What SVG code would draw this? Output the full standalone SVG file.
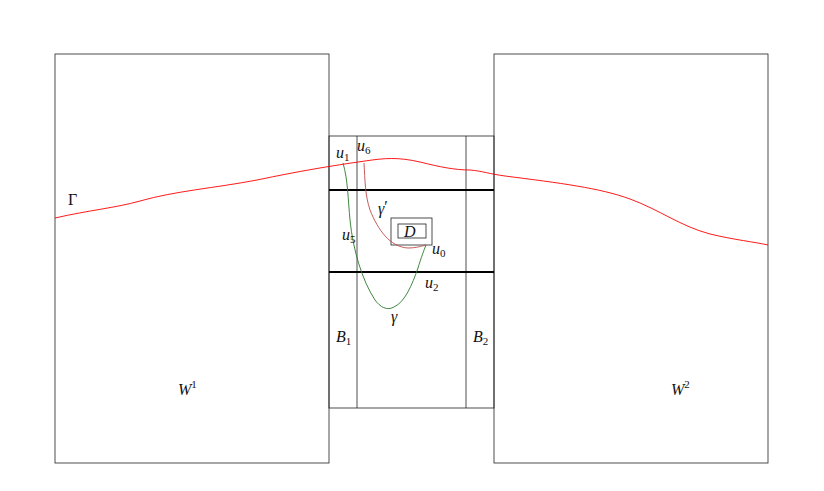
<svg xmlns="http://www.w3.org/2000/svg" width="824" height="491" viewBox="0 0 824 491">
<style>
.box{fill:none;stroke:#222;stroke-width:0.8}
.thick{stroke:#000;stroke-width:2.2}
.t{font-family:"Liberation Serif","DejaVu Serif",serif;font-size:16px;font-style:italic;fill:#111}
.s{font-size:11px;font-style:normal}
.up{font-size:11px;font-style:normal}
</style>
<rect width="824" height="491" fill="#fff"/>
<g id="W1"><rect class="box" x="55" y="54" width="274" height="409"/>
<text class="t" x="178" y="395">W<tspan class="up" dy="-7">1</tspan></text></g>
<g id="W2"><rect class="box" x="494" y="54" width="274" height="409"/>
<text class="t" x="671" y="395">W<tspan class="up" dy="-7">2</tspan></text></g>
<g id="middle"><rect class="box" x="329" y="136" width="165" height="272"/>
<line class="box" x1="357" y1="136" x2="357" y2="408"/>
<line class="box" x1="466" y1="136" x2="466" y2="408"/>
<line class="thick" x1="329" y1="190" x2="494" y2="190"/>
<line class="thick" x1="329" y1="272" x2="494" y2="272"/>
<text class="t" x="336" y="342">B<tspan class="s" dy="3">1</tspan></text>
<text class="t" x="473" y="342">B<tspan class="s" dy="3">2</tspan></text></g>
<g id="D"><rect class="box" x="391" y="218" width="41" height="27"/>
<rect class="box" x="398" y="224" width="28" height="14"/>
<text class="t" x="404" y="237">D</text></g>
<g id="connectors" fill="none">
<path id="Gamma" stroke="#f00" stroke-width="0.9" d="M55,218 C90,210 115,208 140,201 C175,191 215,188 257,180 C300,171 330,166 365,161 C385,158 398,157 420,162 C440,167 455,170 470,170 C482,171 490,174 505,176 C560,183 600,188 630,199 C660,210 680,226 710,234 C735,240 755,242 768,245"/>
<path id="gamma" stroke="#2a7a2a" stroke-width="0.9" d="M343,163 C348,180 348,200 350,220 C353,250 362,280 375,300 C380,307 387,311 394,307 C405,302 412,285 418,268 C421,258 424,250 426,245"/>
<path id="gammaprime" stroke="#c04848" stroke-width="0.9" d="M364,163 C365,180 365,195 370,210 C378,230 390,247 408,248 C416,248 422,246 426,245"/>
</g>
<g id="labels">
<text class="t" x="68" y="205" style="font-style:normal">Γ</text>
<text class="t" x="336" y="158">u<tspan class="s" dy="3">1</tspan></text>
<text class="t" x="357" y="151">u<tspan class="s" dy="3">6</tspan></text>
<text class="t" x="378" y="214">γ<tspan style="font-style:normal" dy="-2">′</tspan></text>
<text class="t" x="342" y="240">u<tspan class="s" dy="3">5</tspan></text>
<text class="t" x="432" y="254">u<tspan class="s" dy="3">0</tspan></text>
<text class="t" x="425" y="288">u<tspan class="s" dy="3">2</tspan></text>
<text class="t" x="391" y="322">γ</text>
</g>
</svg>
